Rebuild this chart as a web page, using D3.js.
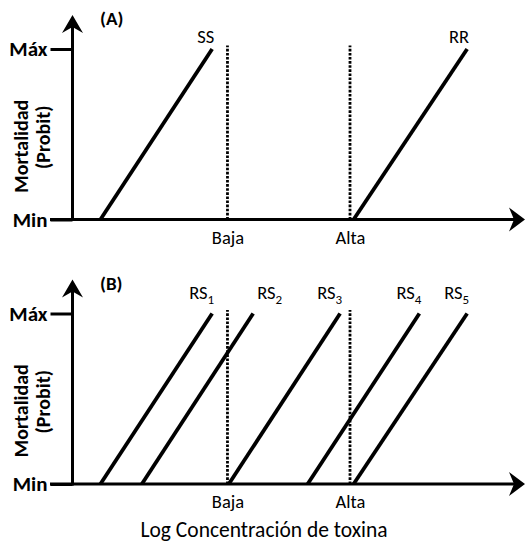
<!DOCTYPE html>
<html>
<head>
<meta charset="utf-8">
<script src="https://cdn.jsdelivr.net/npm/d3@7"></script>
<style>
  html, body { margin: 0; padding: 0; background: #fff; }
  svg text { font-family: Carlito, Lato, "Open Sans", sans-serif; fill: #000; }
</style>
</head>
<body>
<svg id="chart" width="526" height="548"></svg>
<script>
// ---- data ----
const yTickValues = [0, 1];
const yTickLabels = ["Min", "Máx"];
const thresholdLabels = ["Baja", "Alta"];
const thresholdValues = [3.44, 6.16];
const panelLabels = ["(A)", "(B)"];

const seriesA = ["SS", "RR"];
const startA = [0.62, 6.24];
const endA = [3.10, 8.76];

const seriesB = ["RS1", "RS2", "RS3", "RS4", "RS5"];
const startB = [0.62, 1.54, 3.47, 5.22, 6.24];
const endB = [3.10, 4.01, 5.94, 7.70, 8.76];
const labelSideB = ["end", "start", "end", "end", "end"];
const labelSideA = ["end", "end"];

const xAxisTitle = "Log Concentración de toxina";
const yAxisTitle = ["Mortalidad", "(Probit)"];

// ---- layout ----
const svg = d3.select("#chart");
const x = d3.scaleLinear().domain([0, 10]).range([72.5, 523]);
const y = d3.scaleLinear().domain([0, 1]).range([219.5, 49]);

const panels = [
  { label: panelLabels[0], names: seriesA, starts: startA, ends: endA, sides: labelSideA, dy: 0, labOff: 6 },
  { label: panelLabels[1], names: seriesB, starts: startB, ends: endB, sides: labelSideB, dy: 264.5, labOff: 15 }
];

const line = d3.line().x(d => x(d[0])).y(d => y(d[1]));

panels.forEach(p => {
  const g = svg.append("g").attr("transform", `translate(0,${p.dy})`);

  // y axis ticks with labels
  const yAxis = d3.axisLeft(y)
    .tickValues(yTickValues)
    .tickFormat((d, i) => yTickLabels[i])
    .tickSize(22)
    .tickPadding(3);
  const ya = g.append("g").attr("transform", `translate(${x(0)},0)`).call(yAxis);
  ya.select(".domain").remove();
  ya.selectAll(".tick line").attr("stroke", "#000").attr("stroke-width", 3);
  ya.selectAll(".tick text")
    .style("font-size", "21px").style("font-weight", "bold")
    .attr("fill", "#000");

  // x axis ticks labels
  const xAxis = d3.axisBottom(x)
    .tickValues(thresholdValues)
    .tickFormat((d, i) => thresholdLabels[i])
    .tickSize(0)
    .tickPadding(11);
  const xa = g.append("g").attr("transform", `translate(0,${y(0)})`).call(xAxis);
  xa.select(".domain").remove();
  xa.selectAll(".tick text").style("font-size", "18.5px").attr("fill", "#000");

  // threshold dotted lines
  g.selectAll(".thr").data(thresholdValues).join("line")
    .attr("x1", d => x(d)).attr("x2", d => x(d))
    .attr("y1", y(0)).attr("y2", y(1.02))
    .attr("stroke", "#000").attr("stroke-width", 2.8)
    .attr("stroke-dasharray", "2.6,1.5");

  // axes lines with arrows
  const x0 = x(0), yb = y(0);
  const yTip = y(1.2);
  g.append("line").attr("x1", x0).attr("x2", x0).attr("y1", yb + 1.5).attr("y2", yTip + 10)
    .attr("stroke", "#000").attr("stroke-width", 3);
  g.append("path")
    .attr("d", `M${x0},${yTip} L${x0 + 10.5},${yTip + 18} L${x0},${yTip + 12} L${x0 - 10.5},${yTip + 18} Z`)
    .attr("fill", "#000");
  const xTip = 525;
  g.append("line").attr("x1", 50).attr("x2", xTip - 8).attr("y1", yb).attr("y2", yb)
    .attr("stroke", "#000").attr("stroke-width", 3);
  g.append("path")
    .attr("d", `M${xTip},${yb} L${xTip - 16},${yb - 12} L${xTip - 11},${yb} L${xTip - 16},${yb + 12} Z`)
    .attr("fill", "#000");

  // series lines
  const data = p.names.map((n, i) => ({ name: n, pts: [[p.starts[i], 0], [p.ends[i], 1]], side: p.sides[i], end: p.ends[i] }));
  g.selectAll(".series").data(data).join("path")
    .attr("d", d => line(d.pts))
    .attr("fill", "none").attr("stroke", "#000").attr("stroke-width", 3.8);

  // series labels
  const lab = g.selectAll(".slabel").data(data).join("text")
    .attr("x", d => x(d.end) + (d.side === "end" ? 2 : 4))
    .attr("y", y(1) - p.labOff)
    .attr("text-anchor", d => d.side)
    .style("font-size", "18.5px");
  lab.each(function(d) {
    const t = d3.select(this);
    const m = d.name.match(/^([A-Z]+)(\d*)$/);
    t.append("tspan").text(m[1]);
    if (m[2]) t.append("tspan").attr("dy", 5).style("font-size", "13px").text(m[2]);
  });

  // panel label
  g.append("text").attr("x", 100).attr("y", 25).text(p.label)
    .style("font-size", "19px").style("font-weight", "bold");

  // y title
  g.append("text").attr("transform", `translate(21,${(y(0) + y(1)) / 2 + 12}) rotate(-90)`)
    .attr("text-anchor", "middle").attr("dominant-baseline", "central")
    .style("font-size", "20px").style("font-weight", "bold").text(yAxisTitle[0]);
  g.append("text").attr("transform", `translate(43,${(y(0) + y(1)) / 2 + 3}) rotate(-90)`)
    .attr("text-anchor", "middle").attr("dominant-baseline", "central")
    .style("font-size", "20px").style("font-weight", "bold").text(yAxisTitle[1]);
});

svg.append("text").attr("x", 264).attr("y", 537).attr("text-anchor", "middle")
  .style("font-size", "21.5px").text(xAxisTitle);
</script>
</body>
</html>
